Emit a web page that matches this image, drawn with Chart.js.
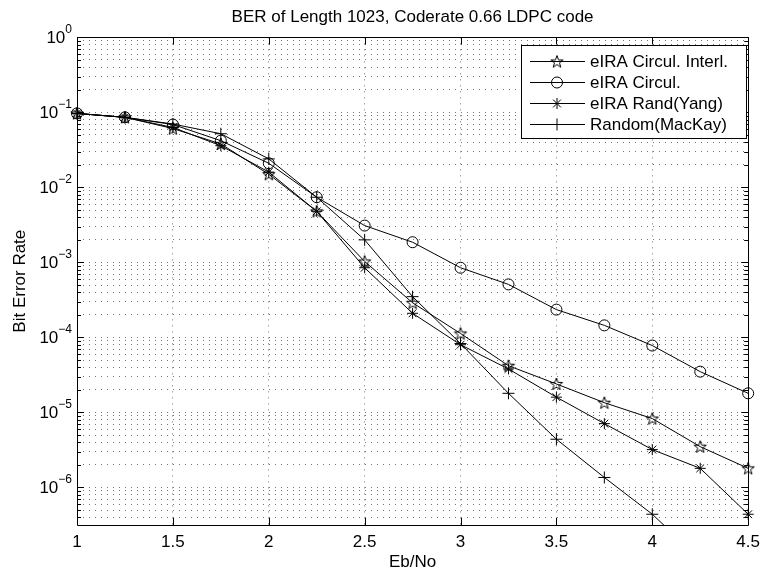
<!DOCTYPE html>
<html>
<head>
<title>BER of Length 1023, Coderate 0.66 LDPC code</title>
<script src="https://cdn.jsdelivr.net/npm/chart.js"></script>
<style>
  body { margin: 0; background: #fff; }
</style>
</head>
<body>
<canvas id="berChart" width="767" height="574"></canvas>
<script>
// values
const ebNo = [1, 1.25, 1.5, 1.75, 2, 2.25, 2.5, 2.75, 3, 3.25, 3.5, 3.75, 4, 4.25, 4.5];
const circulInterl = [0.097, 0.086, 0.061, 0.038, 0.015, 0.0048, 0.00103, 0.00029, 0.000113, 4.2e-5, 2.4e-5, 1.35e-5, 8.3e-6, 3.5e-6, 1.8e-6];
const circul = [0.097, 0.086, 0.069, 0.042, 0.021, 0.0074, 0.0031, 0.00186, 0.00085, 0.00051, 0.000235, 0.000145, 7.8e-5, 3.5e-5, 1.8e-5];
const randYang = [0.097, 0.086, 0.063, 0.036, 0.016, 0.0048, 0.00085, 0.00021, 8.0e-5, 3.8e-5, 1.6e-5, 7.1e-6, 3.2e-6, 1.8e-6, 4.4e-7];
const randomMacKay = [0.097, 0.086, 0.07, 0.052, 0.024, 0.0074, 0.002, 0.00035, 8.3e-5, 1.8e-5, 4.4e-6, 1.36e-6, 4.4e-7, 1.1e-7, null];
const seriesLabels = ['eIRA Circul. Interl.', 'eIRA Circul.', 'eIRA Rand(Yang)', 'Random(MacKay)'];
const xTicks = [1, 1.5, 2, 2.5, 3, 3.5, 4, 4.5];
const yDecades = [0, -1, -2, -3, -4, -5, -6];

const FONT = "'Liberation Sans', Arial, sans-serif";

function pentagram(r) {
    const c = document.createElement('canvas');
    const s = Math.ceil(r * 2 + 3);
    c.width = s; c.height = s;
    const g = c.getContext('2d');
    g.translate(s / 2, s / 2 + 0.5);
    g.beginPath();
    for (let i = 0; i < 10; i++) {
        const rr = i % 2 === 0 ? r : r * 0.4;
        const a = -Math.PI / 2 + i * Math.PI / 5;
        g.lineTo(rr * Math.cos(a), rr * Math.sin(a));
    }
    g.closePath();
    g.strokeStyle = '#000';
    g.lineWidth = 1;
    g.stroke();
    return c;
}
const starImg = pentagram(6.5);

function pts(ys) {
    return ebNo.map((x, i) => ({x: x, y: ys[i]}));
}

// y grid at 1..9 x 10^k
const yGrid = [];
for (let e = 0; e >= -7; e--) {
    for (let m = 1; m <= 9; m++) {
        const v = m * Math.pow(10, e);
        if (v <= 1 && v >= Math.pow(10, -6.5)) yGrid.push(v);
    }
}

function drawMarker(ctx, style, x, y, r) {
    ctx.save();
    ctx.strokeStyle = '#000';
    ctx.lineWidth = 1;
    ctx.beginPath();
    if (style === 'circle') {
        ctx.arc(x, y, r, 0, Math.PI * 2);
    } else if (style === 'cross') {
        ctx.moveTo(x - r, y); ctx.lineTo(x + r, y);
        ctx.moveTo(x, y - r); ctx.lineTo(x, y + r);
    } else if (style === 'star') {
        const d = r * Math.SQRT1_2;
        ctx.moveTo(x - r, y); ctx.lineTo(x + r, y);
        ctx.moveTo(x, y - r); ctx.lineTo(x, y + r);
        ctx.moveTo(x - d, y - d); ctx.lineTo(x + d, y + d);
        ctx.moveTo(x - d, y + d); ctx.lineTo(x + d, y - d);
    } else {
        ctx.drawImage(style, x - style.width / 2, y - style.height / 2);
    }
    ctx.stroke();
    ctx.restore();
}

const matlabBox = {
    id: 'matlabBox',
    afterDatasetsDraw(chart) {
        const {ctx, chartArea: a, scales} = chart;
        ctx.save();
        ctx.strokeStyle = '#000';
        ctx.lineWidth = 1;
        ctx.beginPath();
        ctx.rect(Math.round(a.left) + 0.5, Math.round(a.top) + 0.5,
                 Math.round(a.right - a.left), Math.round(a.bottom - a.top));
        xTicks.forEach(v => {
            const px = Math.round(scales.x.getPixelForValue(v)) + 0.5;
            ctx.moveTo(px, a.bottom); ctx.lineTo(px, a.bottom - 7);
            ctx.moveTo(px, a.top); ctx.lineTo(px, a.top + 7);
        });
        yGrid.forEach(v => {
            const py = Math.round(scales.y.getPixelForValue(v)) + 0.5;
            const major = Math.abs(Math.log10(v) - Math.round(Math.log10(v))) < 1e-9;
            const len = major ? 7 : 4;
            ctx.moveTo(a.left, py); ctx.lineTo(a.left + len, py);
            ctx.moveTo(a.right, py); ctx.lineTo(a.right - len, py);
        });
        ctx.stroke();

        // decade labels with superscript exponent
        ctx.fillStyle = '#000';
        ctx.textBaseline = 'middle';
        yDecades.forEach(e => {
            const py = scales.y.getPixelForValue(Math.pow(10, e));
            const exp = e === 0 ? '0' : '\u2212' + (-e);
            ctx.font = '12px ' + FONT;
            const we = ctx.measureText(exp).width;
            ctx.textAlign = 'right';
            ctx.fillText(exp, a.left - 5, py - 8);
            ctx.font = '17px ' + FONT;
            ctx.fillText('10', a.left - 5 - we, py + 1);
        });
        ctx.restore();
    },
    afterDraw(chart) {
        const {ctx} = chart;
        const left = 521, top = 45, right = 746, rowH = 21;
        const bottom = top + rowH * chart.data.datasets.length + 9;
        ctx.save();
        ctx.fillStyle = '#fff';
        ctx.fillRect(left, top, right - left, bottom - top);
        ctx.strokeStyle = '#000';
        ctx.lineWidth = 1;
        ctx.strokeRect(left + 0.5, top + 0.5, right - left, bottom - top);
        ctx.font = '17px ' + FONT;
        ctx.textBaseline = 'middle';
        ctx.textAlign = 'left';
        ctx.fillStyle = '#000';
        chart.data.datasets.forEach((ds, i) => {
            const y = Math.round(top + 16 + i * rowH) + 0.5;
            ctx.beginPath();
            ctx.moveTo(530, y); ctx.lineTo(585, y);
            ctx.stroke();
            drawMarker(ctx, ds.pointStyle, 557, y, ds.pointRadius);
            ctx.fillText(ds.label, 590, y + 1);
        });
        ctx.restore();
    }
};

function series(label, ys, style, r) {
    return {
        label: label,
        data: pts(ys),
        borderColor: '#000',
        borderWidth: 1,
        backgroundColor: 'rgba(0,0,0,0)',
        pointStyle: style,
        pointRadius: r,
        pointBorderColor: '#000',
        pointBackgroundColor: 'rgba(0,0,0,0)',
        pointBorderWidth: 1,
        tension: 0,
        spanGaps: false,
        clip: {left: 8, top: 8, right: 8, bottom: 0}
    };
}

const ctx = document.getElementById('berChart').getContext('2d');
new Chart(ctx, {
    type: 'line',
    data: {
        datasets: [
            series(seriesLabels[0], circulInterl, starImg, 6.5),
            series(seriesLabels[1], circul, 'circle', 5.5),
            series(seriesLabels[2], randYang, 'star', 5.5),
            series(seriesLabels[3], randomMacKay, 'cross', 6)
        ]
    },
    options: {
        responsive: false,
        animation: false,
        events: [],
        layout: {padding: {top: 0, right: 14, bottom: 0, left: 0}},
        scales: {
            x: {
                type: 'linear',
                min: 1,
                max: 4.5,
                afterBuildTicks: s => { s.ticks = xTicks.map(v => ({value: v})); },
                afterFit: s => { s.height = 49; },
                ticks: {
                    color: '#000',
                    padding: 7,
                    maxRotation: 0,
                    font: {family: FONT, size: 17},
                    callback: v => String(v)
                },
                grid: {color: 'rgba(0,0,0,0.55)', lineWidth: 1, drawTicks: false},
                border: {display: false, dash: [1, 5]},
                title: {
                    display: true,
                    text: 'Eb/No',
                    color: '#000',
                    font: {family: FONT, size: 17},
                    padding: {top: 0, bottom: 1}
                }
            },
            y: {
                type: 'logarithmic',
                min: Math.pow(10, -6.5),
                max: 1,
                bounds: 'data',
                afterBuildTicks: s => { s.ticks = yGrid.map(v => ({value: v})); },
                afterFit: s => { s.width = 77; },
                ticks: {display: false},
                grid: {color: 'rgba(0,0,0,0.55)', lineWidth: 1, drawTicks: false},
                border: {display: false, dash: [1, 5]},
                title: {
                    display: true,
                    text: 'Bit Error Rate',
                    color: '#000',
                    font: {family: FONT, size: 17},
                    padding: {top: 10, bottom: 0}
                }
            }
        },
        plugins: {
            legend: {display: false},
            tooltip: {enabled: false},
            title: {
                display: true,
                fullSize: false,
                text: 'BER of Length 1023, Coderate 0.66 LDPC code',
                color: '#000',
                font: {family: FONT, size: 17, weight: 'normal'},
                padding: {top: 7, bottom: 10}
            }
        }
    },
    plugins: [matlabBox]
});
</script>
</body>
</html>
